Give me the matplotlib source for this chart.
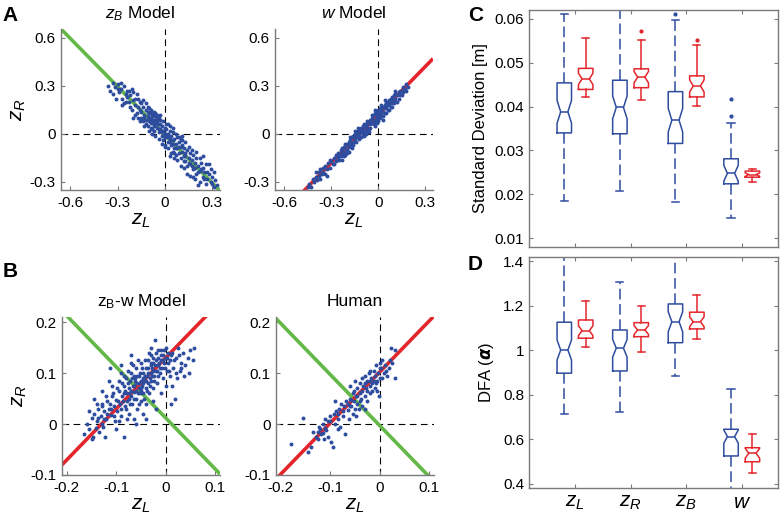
import numpy as np
import matplotlib
matplotlib.use("Agg")
import matplotlib.pyplot as plt
from matplotlib.ticker import FuncFormatter

plt.rcParams['font.family'] = ['Liberation Sans', 'DejaVu Sans']
plt.rcParams['mathtext.fontset'] = 'custom'
plt.rcParams['mathtext.rm'] = 'Liberation Sans'
plt.rcParams['mathtext.it'] = 'Liberation Sans:italic'
plt.rcParams['mathtext.bf'] = 'Liberation Sans:bold'
plt.rcParams['axes.unicode_minus'] = False

BLUE = '#2e4d9f'
RED = '#e3262c'
GREEN = '#63b847'
SPINE = '#7a7a7a'

# ---- scatter data (z_L, z_R) ----
zb_pts = [
    (-0.36, 0.30), (-0.35, 0.27), (-0.33, 0.32), (-0.32, 0.29), (-0.30, 0.31), (-0.29, 0.26),
    (-0.28, 0.28), (-0.27, 0.22), (-0.26, 0.30), (-0.25, 0.25), (-0.24, 0.27), (-0.23, 0.20),
    (-0.22, 0.24), (-0.21, 0.15), (-0.21, 0.28), (-0.20, 0.21), (-0.19, 0.18), (-0.18, 0.25),
    (-0.18, 0.13), (-0.17, 0.17), (-0.16, 0.20), (-0.15, 0.14), (-0.15, 0.10), (-0.14, 0.17),
    (-0.14, 0.08), (-0.13, 0.12), (-0.12, 0.15), (-0.12, 0.09), (-0.11, 0.11), (-0.11, 0.05),
    (-0.10, 0.13), (-0.10, 0.08), (-0.09, 0.10), (-0.09, 0.04), (-0.08, 0.12), (-0.08, 0.07),
    (-0.07, 0.09), (-0.07, 0.02), (-0.06, 0.06), (-0.06, 0.11), (-0.05, 0.04), (-0.05, 0.08),
    (-0.04, 0.01), (-0.04, 0.06), (-0.03, 0.03), (-0.03, 0.09), (-0.02, -0.01), (-0.02, 0.05),
    (-0.01, 0.02), (-0.01, -0.04), (0.00, 0.00), (0.00, 0.04), (0.01, -0.02), (0.01, 0.03),
    (0.02, -0.05), (0.02, 0.00), (0.03, -0.03), (0.03, 0.02), (0.04, -0.07), (0.04, -0.01),
    (0.05, -0.04), (0.05, 0.01), (0.06, -0.09), (0.06, -0.03), (0.07, -0.06), (0.07, -0.13),
    (0.08, -0.02), (0.08, -0.09), (0.09, -0.05), (0.09, -0.12), (0.10, -0.08), (0.10, -0.15),
    (0.11, -0.11), (0.11, -0.04), (0.12, -0.14), (0.12, -0.09), (0.13, -0.17), (0.13, -0.12),
    (0.14, -0.10), (0.14, -0.20), (0.15, -0.15), (0.16, -0.12), (0.16, -0.19), (0.17, -0.16),
    (0.18, -0.22), (0.18, -0.13), (0.19, -0.18), (0.20, -0.25), (0.20, -0.15), (0.21, -0.20),
    (0.22, -0.23), (0.23, -0.18), (0.24, -0.27), (0.24, -0.21), (0.25, -0.24), (0.26, -0.19),
    (0.27, -0.28), (0.28, -0.25), (0.29, -0.30), (0.30, -0.27), (0.31, -0.33), (0.32, -0.29),
    (-0.13, 0.10), (-0.12, 0.06), (-0.10, 0.10), (-0.09, 0.07), (-0.08, 0.09), (-0.07, 0.05),
    (-0.06, 0.08), (-0.05, 0.06), (-0.04, 0.03), (-0.03, 0.06), (-0.02, 0.02), (-0.01, 0.01),
    (0.00, -0.02), (0.01, 0.00), (0.02, -0.02), (0.03, -0.05), (0.05, -0.06), (0.07, -0.09),
    (0.09, -0.08), (0.11, -0.07), (0.13, -0.14), (0.15, -0.18), (0.17, -0.20), (0.19, -0.21),
    (0.21, -0.24), (0.23, -0.22), (0.25, -0.28), (0.27, -0.24), (-0.16, 0.15), (-0.19, 0.22),
    (-0.24, 0.23), (-0.30, 0.28), (-0.20, 0.10), (-0.26, 0.19), (0.05, -0.11), (0.00, -0.08),
    (0.18, -0.27), (0.29, -0.22), (0.03, -0.14), (-0.11, 0.14), (-0.08, 0.03), (-0.04, 0.10),
    (-0.33, 0.25), (-0.31, 0.22), (-0.28, 0.32), (-0.27, 0.18), (-0.25, 0.20), (-0.23, 0.27),
    (-0.22, 0.17), (-0.20, 0.26), (-0.19, 0.12), (-0.17, 0.22), (-0.17, 0.10), (-0.16, 0.08),
    (-0.15, 0.19), (-0.14, 0.21), (-0.13, 0.05), (-0.12, 0.19), (-0.11, 0.17), (-0.10, 0.02),
    (-0.10, 0.16), (-0.09, 0.15), (-0.08, 0.00), (-0.07, 0.14), (-0.06, -0.01), (-0.06, 0.13),
    (-0.05, 0.12), (-0.04, -0.03), (-0.03, 0.12), (-0.02, -0.06), (-0.01, 0.08), (0.00, -0.07),
    (0.01, 0.06), (0.02, -0.09), (0.03, 0.05), (0.04, -0.12), (0.05, 0.04), (0.06, -0.15),
    (0.07, 0.00), (0.08, -0.16), (0.09, -0.02), (0.10, -0.20), (0.11, -0.01), (0.12, -0.21),
    (0.13, -0.05), (0.14, -0.25), (0.15, -0.08), (0.16, -0.26), (0.17, -0.10), (0.19, -0.28),
    (0.20, -0.11), (0.22, -0.30), (0.22, -0.15), (0.24, -0.14), (0.26, -0.31), (0.28, -0.19),
    (0.30, -0.31), (0.31, -0.24), (0.33, -0.32), (0.21, -0.32), (-0.07, 0.11), (-0.09, 0.13),
    (-0.05, 0.10), (0.02, 0.06), (0.06, -0.12), (0.10, -0.03), (0.12, -0.17),
]

w_pts = [
    (-0.45, -0.33), (-0.44, -0.31), (-0.43, -0.33), (-0.42, -0.28), (-0.41, -0.30), (-0.40, -0.27),
    (-0.39, -0.29), (-0.38, -0.24), (-0.38, -0.26), (-0.37, -0.22), (-0.36, -0.25), (-0.35, -0.21),
    (-0.35, -0.24), (-0.34, -0.20), (-0.33, -0.22), (-0.32, -0.18), (-0.31, -0.21), (-0.30, -0.17),
    (-0.29, -0.19), (-0.28, -0.15), (-0.27, -0.17), (-0.26, -0.12), (-0.26, -0.15), (-0.25, -0.13),
    (-0.24, -0.10), (-0.24, -0.14), (-0.23, -0.12), (-0.22, -0.08), (-0.22, -0.11), (-0.21, -0.09),
    (-0.21, -0.13), (-0.20, -0.06), (-0.20, -0.10), (-0.19, -0.08), (-0.19, -0.05), (-0.18, -0.07),
    (-0.18, -0.04), (-0.17, -0.06), (-0.17, -0.02), (-0.16, -0.05), (-0.16, -0.01), (-0.15, -0.03),
    (-0.15, 0.00), (-0.14, -0.02), (-0.14, 0.01), (-0.13, -0.01), (-0.13, 0.02), (-0.12, 0.00),
    (-0.12, 0.03), (-0.11, 0.01), (-0.10, 0.03), (-0.10, 0.00), (-0.09, 0.02), (-0.08, 0.05),
    (-0.08, 0.02), (-0.07, 0.04), (-0.06, 0.07), (-0.06, 0.03), (-0.05, 0.06), (-0.05, 0.09),
    (-0.04, 0.07), (-0.04, 0.10), (-0.03, 0.08), (-0.03, 0.12), (-0.02, 0.09), (-0.02, 0.13),
    (-0.01, 0.10), (-0.01, 0.14), (0.00, 0.11), (0.00, 0.15), (0.00, 0.08), (0.01, 0.13),
    (0.01, 0.16), (0.02, 0.12), (0.02, 0.15), (0.03, 0.14), (0.03, 0.17), (0.04, 0.13),
    (0.04, 0.18), (0.05, 0.16), (0.05, 0.19), (0.06, 0.15), (0.06, 0.20), (0.07, 0.18),
    (0.07, 0.21), (0.08, 0.17), (0.08, 0.22), (0.09, 0.19), (0.09, 0.23), (0.10, 0.21),
    (0.10, 0.24), (0.11, 0.22), (0.12, 0.24), (0.12, 0.20), (0.13, 0.26), (0.14, 0.24),
    (0.15, 0.27), (0.16, 0.26), (0.17, 0.28), (0.18, 0.31), (0.19, 0.29), (-0.02, 0.05),
    (0.03, 0.09), (-0.09, -0.01), (-0.23, -0.16), (-0.33, -0.26), (0.11, 0.27), (-0.07, 0.08),
    (0.04, 0.21),
    (-0.40, -0.24), (-0.37, -0.28), (-0.34, -0.25), (-0.31, -0.16), (-0.28, -0.19), (-0.27, -0.13),
    (-0.25, -0.16), (-0.23, -0.09), (-0.22, -0.14), (-0.21, -0.06), (-0.20, -0.12), (-0.19, -0.11),
    (-0.18, -0.02), (-0.17, -0.09), (-0.16, -0.07), (-0.15, 0.02), (-0.14, -0.05), (-0.13, 0.04),
    (-0.12, -0.03), (-0.11, 0.04), (-0.11, -0.02), (-0.10, 0.05), (-0.09, 0.06), (-0.08, 0.00),
    (-0.07, 0.07), (-0.06, 0.01), (-0.05, 0.04), (-0.04, 0.12), (-0.03, 0.06), (-0.02, 0.15),
    (-0.01, 0.07), (0.00, 0.13), (0.01, 0.10), (0.02, 0.18), (0.03, 0.11), (0.04, 0.16),
    (0.05, 0.13), (0.06, 0.18), (0.07, 0.15), (0.08, 0.20), (0.09, 0.17), (0.10, 0.19),
    (0.11, 0.25), (0.13, 0.22), (0.14, 0.27), (0.16, 0.29), (0.18, 0.27), (0.15, 0.24),
    (0.02, 0.14), (-0.01, 0.12), (0.01, 0.14),
]

zbw_pts = [
    (-0.165, -0.020), (-0.160, 0.000), (-0.155, -0.010), (-0.150, 0.012), (-0.148, -0.025),
    (-0.145, 0.020), (-0.140, 0.005), (-0.138, 0.030), (-0.135, -0.015), (-0.132, 0.015),
    (-0.130, 0.040), (-0.128, 0.000), (-0.125, 0.025), (-0.122, -0.025), (-0.120, 0.010),
    (-0.118, 0.045), (-0.115, 0.030), (-0.113, 0.110), (-0.110, 0.018), (-0.108, 0.055),
    (-0.105, 0.035), (-0.103, 0.005), (-0.100, 0.048), (-0.098, 0.025), (-0.095, 0.065),
    (-0.093, 0.040), (-0.090, 0.015), (-0.088, 0.055), (-0.085, 0.075), (-0.085, -0.025),
    (-0.083, 0.035), (-0.080, 0.060), (-0.080, 0.090), (-0.078, 0.045), (-0.075, 0.070),
    (-0.075, 0.020), (-0.073, 0.085), (-0.070, 0.055), (-0.070, 0.100), (-0.068, 0.040),
    (-0.065, 0.075), (-0.065, 0.062), (-0.063, 0.090), (-0.060, 0.050), (-0.060, 0.080),
    (-0.060, 0.110), (-0.058, 0.030), (-0.055, 0.070), (-0.055, 0.095), (-0.053, 0.060),
    (-0.050, 0.085), (-0.050, 0.045), (-0.050, 0.120), (-0.048, 0.075), (-0.045, 0.100),
    (-0.045, 0.060), (-0.043, 0.088), (-0.040, 0.070), (-0.040, 0.110), (-0.040, 0.040),
    (-0.038, 0.095), (-0.035, 0.080), (-0.035, 0.125), (-0.033, 0.060), (-0.030, 0.100),
    (-0.030, 0.085), (-0.030, 0.135), (-0.028, 0.110), (-0.025, 0.070), (-0.025, 0.120),
    (-0.023, 0.095), (-0.022, 0.165), (-0.020, 0.105), (-0.020, 0.140), (-0.018, 0.080),
    (-0.015, 0.115), (-0.015, 0.130), (-0.012, 0.100), (-0.010, 0.125), (-0.010, 0.145),
    (-0.008, 0.110), (-0.005, 0.135), (-0.005, 0.090), (-0.003, 0.120), (0.000, 0.130),
    (0.000, 0.150), (0.002, 0.105), (0.005, 0.140), (0.005, 0.120), (0.008, 0.095),
    (0.010, 0.135), (0.012, 0.075), (0.015, 0.110), (0.018, 0.050), (0.020, 0.130),
    (0.022, 0.090), (0.025, 0.150), (0.028, 0.105), (0.030, 0.120), (0.035, 0.140),
    (0.038, 0.095), (0.045, 0.130), (0.050, 0.145), (0.055, 0.125), (0.058, 0.150),
    (-0.095, 0.085), (-0.108, 0.075), (-0.120, 0.055), (-0.140, 0.040), (-0.090, 0.100),
    (-0.070, 0.120), (-0.150, -0.030), (-0.100, -0.010), (-0.065, 0.010), (-0.045, 0.020),
    (-0.025, 0.045), (-0.060, 0.065), (-0.055, 0.080), (-0.070, 0.065), (-0.075, 0.050),
    (-0.085, 0.060), (-0.050, 0.065), (-0.045, 0.090), (-0.035, 0.100), (-0.025, 0.105),
    (-0.015, 0.095), (-0.030, 0.115), (-0.065, 0.095), (-0.080, 0.030), (-0.110, 0.030),
    (-0.125, 0.010),
    (-0.155, 0.025), (-0.142, -0.008), (-0.138, 0.012), (-0.128, 0.035), (-0.126, -0.005),
    (-0.118, 0.020), (-0.112, 0.040), (-0.106, 0.060), (-0.104, 0.015), (-0.098, 0.070),
    (-0.096, 0.045), (-0.094, 0.005), (-0.091, 0.030), (-0.089, 0.080), (-0.087, 0.045),
    (-0.084, 0.095), (-0.082, 0.065), (-0.079, 0.010), (-0.077, 0.080), (-0.076, 0.105),
    (-0.074, 0.060), (-0.072, 0.040), (-0.069, 0.090), (-0.067, 0.075), (-0.066, 0.115),
    (-0.064, 0.050), (-0.062, 0.085), (-0.059, 0.095), (-0.057, 0.060), (-0.056, 0.125),
    (-0.054, 0.040), (-0.052, 0.100), (-0.049, 0.070), (-0.047, 0.110), (-0.046, 0.080),
    (-0.044, 0.050), (-0.042, 0.125), (-0.041, 0.095), (-0.039, 0.085), (-0.037, 0.065),
    (-0.036, 0.110), (-0.034, 0.140), (-0.032, 0.090), (-0.031, 0.075), (-0.029, 0.120),
    (-0.027, 0.095), (-0.026, 0.130), (-0.024, 0.085), (-0.021, 0.115), (-0.019, 0.125),
    (-0.017, 0.105), (-0.016, 0.145), (-0.013, 0.120), (-0.011, 0.110), (-0.009, 0.135),
    (-0.006, 0.125), (-0.004, 0.145), (-0.002, 0.110), (0.003, 0.130), (0.006, 0.105),
    (0.009, 0.125), (0.012, 0.140), (0.016, 0.125), (0.020, 0.100), (0.026, 0.135),
    (0.032, 0.110), (0.040, 0.115), (0.048, 0.100), (-0.145, 0.050), (-0.130, 0.065),
    (-0.115, 0.085), (-0.070, 0.135), (-0.090, 0.115), (-0.010, 0.060), (0.000, 0.075),
    (-0.020, 0.030), (-0.040, 0.010), (-0.060, 0.000), (0.010, 0.040), (-0.030, 0.150),
]

human_pts = [
    (-0.180, -0.040), (-0.155, 0.012), (-0.145, -0.055), (-0.140, -0.045), (-0.130, -0.025),
    (-0.125, -0.015), (-0.120, -0.010), (-0.118, -0.020), (-0.115, 0.000), (-0.112, -0.030),
    (-0.110, -0.008), (-0.108, -0.012), (-0.105, 0.005), (-0.100, 0.015), (-0.098, -0.035),
    (-0.095, -0.045), (-0.093, 0.020), (-0.090, 0.000), (-0.088, 0.025), (-0.085, 0.010),
    (-0.082, 0.030), (-0.080, -0.005), (-0.078, 0.040), (-0.075, 0.015), (-0.072, 0.035),
    (-0.070, -0.020), (-0.068, 0.045), (-0.065, 0.028), (-0.063, 0.010), (-0.060, 0.050),
    (-0.058, 0.035), (-0.055, 0.060), (-0.055, 0.020), (-0.052, 0.045), (-0.050, 0.085),
    (-0.048, 0.055), (-0.045, 0.040), (-0.045, 0.070), (-0.042, 0.030), (-0.040, 0.060),
    (-0.040, 0.080), (-0.038, 0.050), (-0.035, 0.090), (-0.035, 0.065), (-0.033, 0.075),
    (-0.030, 0.055), (-0.030, 0.095), (-0.028, 0.070), (-0.025, 0.085), (-0.025, 0.045),
    (-0.022, 0.100), (-0.020, 0.075), (-0.020, 0.060), (-0.018, 0.090), (-0.015, 0.080),
    (-0.012, 0.105), (-0.010, 0.095), (-0.010, 0.070), (-0.008, 0.115), (-0.005, 0.085),
    (-0.003, 0.100), (0.000, 0.120), (0.000, 0.090), (0.002, 0.110), (0.005, 0.125),
    (0.008, 0.100), (0.010, 0.115), (0.015, 0.095), (0.018, 0.110), (0.022, 0.150),
    (0.025, 0.120), (0.030, 0.090), (0.032, 0.145), (-0.002, 0.055), (-0.135, -0.015),
    (-0.122, -0.005), (-0.115, -0.018), (-0.105, -0.025), (-0.100, 0.005), (-0.085, 0.020),
    (-0.075, 0.025), (-0.065, 0.040), (-0.058, 0.048), (-0.050, 0.030), (-0.045, 0.055),
    (-0.040, 0.045), (-0.035, 0.035), (-0.030, 0.080), (-0.025, 0.065), (-0.015, 0.065),
    (-0.008, 0.080), (0.005, 0.090), (0.012, 0.105), (-0.060, 0.075), (-0.052, 0.065),
    (-0.020, 0.105), (-0.012, 0.085), (-0.090, 0.045), (-0.060, 0.035), (-0.030, 0.030),
    (-0.020, 0.085), (0.000, 0.110), (0.020, 0.125), (-0.110, 0.010), (-0.125, -0.030),
    (-0.085, -0.010), (-0.048, 0.015), (-0.005, 0.065),
]

# fitted lines: (slope, intercept)
zb_green = (-1.0, -0.005)
w_red = (1.0, 0.12)
zbw_green = (-1.0, 0.012)
zbw_red = (1.0, 0.13)
human_green = (-1.0, -0.003)
human_red = (1.0, 0.102)

# ---- box plot summaries: zL, zR, zB, w ----
box_labels = ['$z_L$', '$z_R$', '$z_B$', '$w$']

sd_blue_med = [0.0388, 0.0398, 0.0369, 0.0248]
sd_blue_q1 = [0.0340, 0.0338, 0.0316, 0.0224]
sd_blue_q3 = [0.0454, 0.0460, 0.0434, 0.0281]
sd_blue_lo = [0.0184, 0.0207, 0.0182, 0.0145]
sd_blue_hi = [0.0611, 0.0660, 0.0598, 0.0363]
sd_blue_ci = [0.0026, 0.0026, 0.0027, 0.0018]
sd_blue_out = [[], [], [0.0611], [0.0417, 0.0378]]

sd_red_med = [0.0463, 0.0467, 0.0447, 0.0245]
sd_red_q1 = [0.0439, 0.0443, 0.0422, 0.0239]
sd_red_q3 = [0.0487, 0.0486, 0.0470, 0.0253]
sd_red_lo = [0.0421, 0.0415, 0.0401, 0.0228]
sd_red_hi = [0.0557, 0.0552, 0.0541, 0.0258]
sd_red_ci = [0.0013, 0.0013, 0.0014, 0.0004]
sd_red_out = [[], [0.0573], [0.0552], []]

dfa_blue_med = [1.002, 1.010, 1.129, 0.613]
dfa_blue_q1 = [0.898, 0.908, 1.035, 0.526]
dfa_blue_q3 = [1.127, 1.092, 1.209, 0.646]
dfa_blue_lo = [0.715, 0.724, 0.885, 0.375]
dfa_blue_hi = [1.500, 1.307, 1.500, 0.826]
dfa_blue_ci = [0.045, 0.040, 0.045, 0.030]

dfa_red_med = [1.089, 1.092, 1.129, 0.538]
dfa_red_q1 = [1.055, 1.062, 1.097, 0.500]
dfa_red_q3 = [1.137, 1.125, 1.172, 0.563]
dfa_red_lo = [1.014, 0.992, 1.050, 0.451]
dfa_red_hi = [1.224, 1.201, 1.251, 0.625]
dfa_red_ci = [0.022, 0.020, 0.022, 0.022]


def px_axes(fig, left, top, right, bottom, W=780, H=523):
    return fig.add_axes([left / W, 1 - bottom / H, (right - left) / W, (bottom - top) / H])


def scatter_panel(ax, pts, lines, xlim, ylim, ticks, title, ylabel=None):
    pts = np.array(pts)
    ax.set_xlim(xlim)
    ax.set_ylim(ylim)
    dash = (0, (6, 4))
    ax.axhline(0, color='k', lw=0.8, ls=dash, zorder=1)
    ax.axvline(0, color='k', lw=0.8, ls=dash, zorder=1)
    xs = np.array(xlim)
    for (m, b), col in lines:
        ax.plot(xs, m * xs + b, color=col, lw=2.6, solid_capstyle='butt', zorder=2)
    ax.scatter(pts[:, 0], pts[:, 1], s=8, color=BLUE, linewidths=0, zorder=3)
    ax.set_xticks(ticks[0])
    ax.set_yticks(ticks[1])
    fmt = FuncFormatter(lambda v, p: '%g' % round(v, 3))
    ax.xaxis.set_major_formatter(fmt)
    ax.yaxis.set_major_formatter(fmt)
    for s in ['top', 'right']:
        ax.spines[s].set_visible(False)
    for s in ['left', 'bottom']:
        ax.spines[s].set_color(SPINE)
        ax.spines[s].set_linewidth(1.0)
    ax.tick_params(direction='in', length=3, color=SPINE, labelsize=11, pad=4)
    ax.set_title(title, fontsize=12.5, pad=8)
    ax.set_xlabel('$z_L$', fontsize=15, labelpad=1)
    if ylabel:
        ax.set_ylabel(ylabel, fontsize=15, labelpad=1)


def make_stats(med, q1, q3, lo, hi, ci, out=None):
    stats = []
    for i in range(len(med)):
        stats.append(dict(med=med[i], q1=q1[i], q3=q3[i], whislo=lo[i], whishi=hi[i],
                          cilo=med[i] - ci[i], cihi=med[i] + ci[i],
                          fliers=out[i] if out else []))
    return stats


def box_panel(ax, blue_stats, red_stats):
    pos = np.arange(1, 5)
    for stats, col, off, wls in [(blue_stats, BLUE, -0.195, (0, (7, 3))), (red_stats, RED, 0.19, '-')]:
        ax.bxp(stats, positions=pos + off, widths=0.26, capwidths=0.13, shownotches=True,
               showfliers=True, manage_ticks=False,
               boxprops=dict(color=col, lw=1.1),
               whiskerprops=dict(color=col, lw=1.1, ls=wls),
               capprops=dict(color=col, lw=1.1),
               medianprops=dict(color=col, lw=1.1),
               flierprops=dict(marker='.', markersize=4, markerfacecolor=col,
                               markeredgecolor=col, ls='none'))
    ax.set_xlim(0.17, 4.65)
    ax.set_xticks(pos)
    for s in ax.spines.values():
        s.set_color(SPINE)
        s.set_linewidth(1.0)
    ax.tick_params(direction='in', length=3, color=SPINE, labelsize=11, top=True, right=True)


fig = plt.figure(figsize=(7.8, 5.23), dpi=100)

lim_a = ((-0.66, 0.35), (-0.35, 0.655))
ticks_a = ([-0.6, -0.3, 0, 0.3], [-0.3, 0, 0.3, 0.6])
lim_b = ((-0.21, 0.11), (-0.1, 0.21))
ticks_b = ([-0.2, -0.1, 0, 0.1], [-0.1, 0, 0.1, 0.2])

ax1 = px_axes(fig, 61, 29, 220, 190)
scatter_panel(ax1, zb_pts, [(zb_green, GREEN)], *lim_a, ticks_a, '$z_B$ Model', '$z_R$')
ax2 = px_axes(fig, 275, 29, 433, 190)
scatter_panel(ax2, w_pts, [(w_red, RED)], *lim_a, ticks_a, '$w$ Model')
ax3 = px_axes(fig, 62, 317, 220, 475)
scatter_panel(ax3, zbw_pts, [(zbw_green, GREEN), (zbw_red, RED)], *lim_b, ticks_b,
              r'z$_\mathrm{B}$-w Model', '$z_R$')
ax4 = px_axes(fig, 276, 317, 434, 475)
scatter_panel(ax4, human_pts, [(human_green, GREEN), (human_red, RED)], *lim_b, ticks_b, 'Human')

axc = px_axes(fig, 529, 10, 778, 247)
box_panel(axc, make_stats(sd_blue_med, sd_blue_q1, sd_blue_q3, sd_blue_lo, sd_blue_hi, sd_blue_ci, sd_blue_out),
          make_stats(sd_red_med, sd_red_q1, sd_red_q3, sd_red_lo, sd_red_hi, sd_red_ci, sd_red_out))
axc.set_ylim(0.008, 0.062)
axc.set_yticks([0.01, 0.02, 0.03, 0.04, 0.05, 0.06])
axc.set_yticklabels(['0.01', '0.02', '0.03', '0.04', '0.05', '0.06'])
axc.set_xticklabels([])
axc.set_ylabel('Standard Deviation [m]', fontsize=12, labelpad=5)

axd = px_axes(fig, 529, 257, 778, 488)
box_panel(axd, make_stats(dfa_blue_med, dfa_blue_q1, dfa_blue_q3, dfa_blue_lo, dfa_blue_hi, dfa_blue_ci),
          make_stats(dfa_red_med, dfa_red_q1, dfa_red_q3, dfa_red_lo, dfa_red_hi, dfa_red_ci))
axd.set_ylim(0.382, 1.42)
axd.set_yticks([0.4, 0.6, 0.8, 1.0, 1.2, 1.4])
axd.set_yticklabels(['0.4', '0.6', '0.8', '1', '1.2', '1.4'])
axd.set_xticklabels(box_labels, fontsize=15)
axd.set_ylabel(r'DFA ($\boldsymbol{\alpha}$)', fontsize=12, labelpad=5)

for lbl, x, y in [('A', 2, 6), ('B', 3, 262), ('C', 468, 6), ('D', 468, 255)]:
    fig.text(x / 780, 1 - y / 523, lbl, fontsize=15, fontweight='bold', va='top', ha='left')

fig.savefig('out.png', dpi=100)
